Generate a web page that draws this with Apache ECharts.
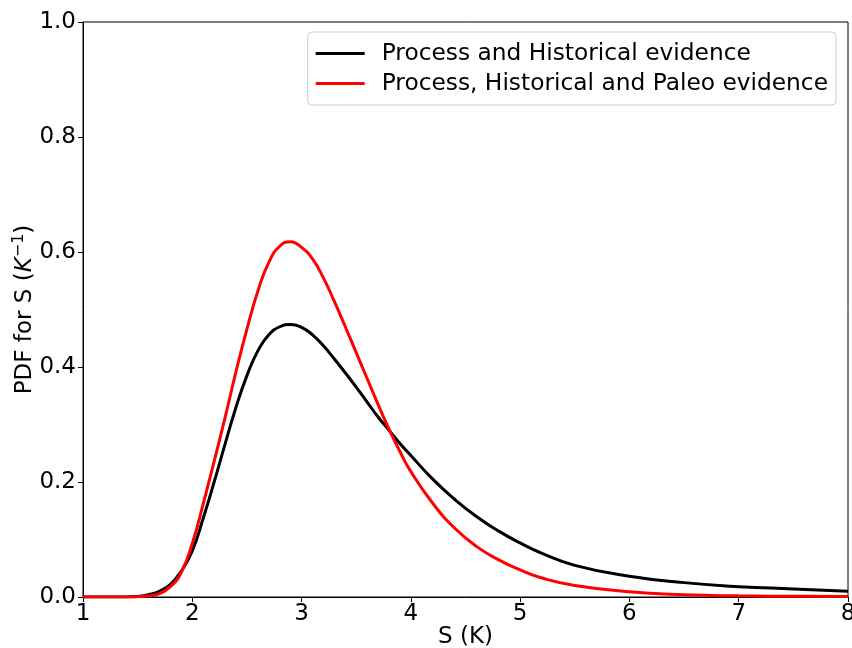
<!DOCTYPE html>
<html>
<head>
<meta charset="utf-8">
<script src="https://cdn.jsdelivr.net/npm/echarts@6/dist/echarts.min.js"></script>
<style>html,body{margin:0;padding:0;background:#fff}#c{width:852px;height:648px}</style>
</head>
<body>
<div id="c"></div>
<script>
const sValues = [1.0,1.2,1.4,1.5,1.6,1.7,1.8,1.9,2.0,2.1,2.2,2.3,2.4,2.5,2.6,2.7,2.8,2.9,3.0,3.1,3.2,3.3,3.4,3.5,3.6,3.7,3.8,3.9,4.0,4.2,4.4,4.6,4.8,5.0,5.2,5.5,6.0,6.5,7.0,7.5,8.0];
const pdfProcessHistorical = [0,0,0.0002,0.001,0.004,0.01,0.022,0.045,0.08,0.137,0.2,0.266,0.33,0.385,0.428,0.456,0.47,0.474,0.469,0.456,0.437,0.414,0.39,0.365,0.339,0.313,0.29,0.267,0.246,0.205,0.17,0.14,0.115,0.094,0.076,0.055,0.036,0.025,0.018,0.014,0.010];
const pdfProcessHistoricalPaleo = [0,0,0.0001,0.0005,0.002,0.006,0.018,0.043,0.093,0.162,0.236,0.312,0.392,0.466,0.532,0.582,0.61,0.618,0.608,0.588,0.555,0.514,0.47,0.425,0.38,0.335,0.292,0.253,0.218,0.163,0.12,0.088,0.065,0.047,0.033,0.02,0.009,0.004,0.002,0.0012,0.0008];
const seriesNames = ['Process and Historical evidence','Process, Historical and Paleo evidence'];
const xTicks = [1,2,3,4,5,6,7,8];
const yTicks = [0.0,0.2,0.4,0.6,0.8,1.0];

const font = 'DejaVu Sans';
const fs = 23;
const chart = echarts.init(document.getElementById('c'));
const pair = a => sValues.map((x,i)=>[x,a[i]]);
chart.setOption({
  animation:false,
  textStyle:{fontFamily:font},
  grid:{left:83,right:4,top:22,bottom:51,containLabel:false,outerBoundsMode:'none',
        show:true,borderColor:'#000',borderWidth:1,backgroundColor:'transparent'},
  xAxis:{type:'value',min:1,max:8,interval:1,
    name:'S (K)',nameLocation:'middle',nameGap:29,nameMoveOverlap:false,
    nameTextStyle:{fontSize:fs,color:'#000',fontFamily:font},
    axisLine:{show:true,onZero:false,lineStyle:{color:'#000'}},
    axisTick:{show:true,length:5,lineStyle:{color:'#000'}},
    axisLabel:{fontSize:fs,color:'#000',margin:6,fontFamily:font,formatter:v=>xTicks.includes(v)?String(v):''},
    splitLine:{show:false}},
  yAxis:{type:'value',min:0,max:1,interval:0.2,
    name:'PDF for S ({i|K}{sup|−1})',nameLocation:'middle',nameGap:44,nameRotate:90,nameMoveOverlap:false,
    nameTextStyle:{fontSize:fs,color:'#000',fontFamily:font,
      rich:{i:{fontSize:fs,fontStyle:'italic',color:'#000',fontFamily:font},
            sup:{fontSize:16,color:'#000',verticalAlign:'top',padding:[0,0,12,0],fontFamily:font}}},
    axisLine:{show:true,lineStyle:{color:'#000'}},
    axisTick:{show:true,length:5,lineStyle:{color:'#000'}},
    axisLabel:{fontSize:fs,color:'#000',margin:7,fontFamily:font,formatter:v=>yTicks.some(t=>Math.abs(t-v)<1e-9)?v.toFixed(1):''},
    splitLine:{show:false}},
  legend:{orient:'vertical',right:16,top:32,
    backgroundColor:'#fff',borderColor:'#ccc',borderWidth:1,borderRadius:4,
    padding:[10,8,10,8],itemGap:7,itemWidth:49,itemHeight:3,icon:'rect',
    textStyle:{fontSize:23.3,color:'#000',fontFamily:font,padding:[0,0,0,12]},
    data:seriesNames},
  series:[
    {name:seriesNames[0],type:'line',data:pair(pdfProcessHistorical),smooth:0.5,showSymbol:false,
     lineStyle:{color:'#000',width:3},itemStyle:{color:'#000'}},
    {name:seriesNames[1],type:'line',data:pair(pdfProcessHistoricalPaleo),smooth:0.5,showSymbol:false,
     lineStyle:{color:'#ff0000',width:3},itemStyle:{color:'#ff0000'}}
  ]
});
</script>
</body>
</html>
